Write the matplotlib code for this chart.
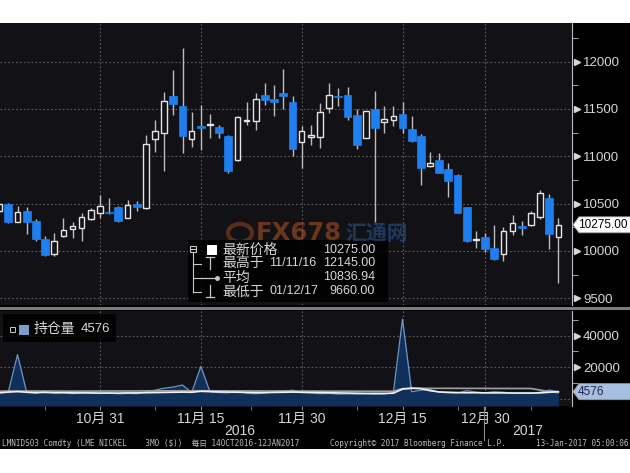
import matplotlib
matplotlib.use('Agg')
import matplotlib.pyplot as plt
from matplotlib.patches import Rectangle, Polygon, Circle
from matplotlib.lines import Line2D
from matplotlib.transforms import IdentityTransform
import numpy as np
import pandas as pd

plt.rcParams['font.family'] = ['Liberation Sans', 'Noto Sans CJK SC', 'DejaVu Sans']

W, H = 630, 473

# LME trading days (closed 26-27 Dec and 2 Jan)
days = [d for d in pd.bdate_range('2016-10-14', '2017-01-12')
        if d.strftime('%m-%d') not in ('12-26', '12-27', '01-02')]

opens = [10420, 10490, 10310, 10420, 10320, 10130, 9965, 10158, 10228, 10239,
         10341, 10405, 10415, 10460, 10350, 10500, 10450, 11183, 11246, 11639,
         11526, 11183, 11323, 11330, 11305, 11210, 10955, 11370, 11376, 11650,
         11604, 11667, 11568, 11147, 11205, 11205, 11509, 11639, 11649, 11439,
         11194, 11502, 11358, 11379, 11449, 11292, 11218, 10895, 10965, 10860,
         10800, 10458, 10110, 10150, 10025, 9965, 10205, 10260, 10270, 10358,
         10555, 10150]
highs = [10510, 10505, 10475, 10465, 10340, 10160, 10185, 10350, 10300, 10405,
         10450, 10586, 10562, 10475, 10535, 10526, 11229, 11386, 11674, 11912,
         12145, 11463, 11545, 11450, 11334, 11228, 11420, 11568, 11667, 11772,
         11755, 11920, 11639, 11316, 11334, 11562, 11772, 11720, 11730, 11499,
         11474, 11684, 11534, 11526, 11568, 11421, 11239, 11046, 11036, 10930,
         10815, 10460, 10210, 10185, 10270, 10256, 10375, 10316, 10421, 10639,
         10597, 10350]
lows = [10400, 10295, 10300, 10183, 10105, 9950, 9950, 10148, 10140, 10105,
        10326, 10352, 10385, 10300, 10345, 10420, 10440, 11046, 10842, 11439,
        11036, 11099, 11070, 11194, 11194, 10825, 10950, 11334, 11280, 11544,
        11427, 11499, 11000, 10878, 11123, 11088, 11457, 11535, 11386, 11078,
        11194, 10305, 11246, 11316, 11246, 11147, 10692, 10888, 10818, 10573,
        10400, 10098, 10030, 9990, 9905, 9895, 10165, 10170, 10262, 10333,
        10018, 9660]
closes = [10490, 10300, 10415, 10305, 10120, 9955, 10100, 10220, 10263, 10358,
          10432, 10474, 10397, 10316, 10480, 10465, 11134, 11270, 11579, 11552,
          11218, 11270, 11299, 11340, 11246, 10842, 11410, 11385, 11607, 11589,
          11568, 11639, 11078, 11263, 11215, 11467, 11649, 11620, 11415, 11120,
          11474, 11299, 11397, 11428, 11299, 11165, 10878, 10930, 10825, 10740,
          10405, 10100, 10120, 10018, 9910, 10210, 10290, 10240, 10397, 10614,
          10175, 10275]

open_int = [4000, 4500, 28000, 4200, 3500, 4800, 3800, 4200, 3300, 4100,
            3600, 3400, 3900, 3200, 3500, 3300, 4500, 5500, 6800, 7500,
            8800, 4000, 20500, 4500, 4000, 3800, 5200, 3600, 3300, 3700,
            4500, 4800, 5500, 4000, 3800, 3300, 3500, 3000, 3200, 3000,
            3100, 2900, 3000, 4000, 50500, 4500, 5500, 6000, 4200, 3800,
            3700, 5200, 4300, 3900, 4500, 4200, 3600, 3800, 3500, 4200,
            5600, 4576]
oi_avg_white = [3800, 4300, 4600, 4200, 4000, 4100, 3900, 3900, 3800, 3800,
                3800, 3700, 3700, 3700, 3800, 3800, 3900, 4000, 4100, 4200,
                4300, 4200, 4800, 4600, 4400, 4300, 4200, 4100, 4000, 4000,
                4100, 4200, 4300, 4200, 4100, 4000, 3900, 3800, 3700, 3600,
                3500, 3500, 3500, 3600, 6200, 6800, 6500, 5200, 4400, 4200,
                4000, 3900, 3900, 3800, 3800, 3800, 3700, 3700, 3700, 3800,
                4200, 4576]
oi_avg_gray = [4900, 4950, 5000, 5000, 5000, 4950, 4950, 4900, 4900, 4900,
               4950, 4950, 5000, 5000, 5000, 5000, 5050, 5050, 5100, 5100,
               5100, 5100, 5150, 5150, 5100, 5100, 5050, 5050, 5000, 5000,
               5000, 5000, 5000, 4950, 4950, 4950, 4900, 4900, 4900, 4900,
               4850, 4850, 4850, 4850, 6500, 6700, 6700, 6700, 6700, 6700,
               6700, 6650, 6650, 6650, 6600, 6600, 6600, 6600, 6600, 5600,
               4600, 4000]

tick_dates = ['2016-10-31', '2016-11-15', '2016-11-30', '2016-12-15', '2016-12-30']
tick_labels = ['10月 31', '11月 15', '11月 30', '12月 15', '12月 30']
price_ticks = [9500, 10000, 10500, 11000, 11500, 12000]
price_minor = [9750, 10250, 10750, 11250, 11750, 12250]
vol_ticks = [20000, 40000]
vol_minor = [10000, 30000, 50000]

last_price = 10275.00
high_price, high_date = 12145.00, '11/11/16'
avg_price = 10836.94
low_price, low_date = 9660.00, '01/12/17'
last_oi = 4576

BLUE = '#1f7ff0'
BG = '#121216'
TXT = '#d6d6d6'
GRID = '#5e5e5e'
CJK = 'Noto Sans CJK SC'


def fx(x):
    return x / W


def fy(y):
    return 1 - y / H


fig = plt.figure(figsize=(6.3, 4.73), dpi=100)
fig.patch.set_facecolor('white')
fig.add_artist(Rectangle((0, fy(449)), 1, (449 - 23) / H, transform=fig.transFigure,
                         fc='black', ec='none', zorder=0))

ax = fig.add_axes([0, fy(305), fx(572), (305 - 23) / H])
ax2 = fig.add_axes([0, fy(406), fx(572), (406 - 311) / H])

x = np.arange(len(days))
day_str = [d.strftime('%Y-%m-%d') for d in days]
tick_pos = [day_str.index(t) for t in tick_dates]

# ---- candles
o, h, l, c = map(np.array, (opens, highs, lows, closes))
up = c >= o
ax.vlines(x, l, h, color='#bdbdbd', lw=1, zorder=2)
bottom = np.minimum(o, c)
height = np.maximum(np.abs(c - o), 14)
ax.bar(x[~up], height[~up], bottom=bottom[~up], width=0.85, color=BLUE,
       edgecolor=BLUE, lw=0.5, zorder=3)
ax.bar(x[up], height[up], bottom=bottom[up], width=0.6, color=BG,
       edgecolor='#e4e4e4', lw=1, zorder=3)

for a in (ax, ax2):
    a.set_facecolor(BG)
    a.set_xlim(0.09, 62.49)
    for s in ('top', 'left', 'bottom'):
        a.spines[s].set_visible(False)
    a.spines['right'].set_color('#bdbdbd')
    a.yaxis.tick_right()
    a.set_xticks(tick_pos)
    a.grid(True, which='major', color=GRID, ls=(0, (1.5, 2)), lw=0.8)
    a.set_axisbelow(True)
    a.tick_params(axis='y', which='major', length=0, pad=8, labelsize=9.5,
                  labelcolor=TXT)
    a.tick_params(axis='y', which='minor', length=4, color='#9a9a9a', width=0.8)

ax.set_ylim(9428, 12407)
ax.set_yticks(price_ticks)
ax.set_yticks(price_minor, minor=True)
ax.tick_params(axis='x', length=0, labelbottom=False)
ax.plot([1.0 + 5 / 572] * len(price_ticks), price_ticks, transform=ax.get_yaxis_transform(),
        marker='>', ms=5, ls='none', color=TXT, clip_on=False)

# ---- open interest panel
ax2.set_ylim(-4494, 55633)
ax2.set_yticks([0] + vol_ticks)
ax2.set_yticklabels([''] + [str(v) for v in vol_ticks])
ax2.set_yticks(vol_minor, minor=True)
ax2.plot([1.0 + 5 / 572] * len(vol_ticks), vol_ticks, transform=ax2.get_yaxis_transform(),
         marker='>', ms=5, ls='none', color=TXT, clip_on=False)
ax2.fill_between(x, open_int, -4494, color='#10305a', lw=0, zorder=2)
ax2.plot(x, open_int, color='#6f95c9', lw=0.9, zorder=3)
ax2.plot(x, oi_avg_gray, color='#a0a0a0', lw=1.2, zorder=4)
ax2.plot(x, oi_avg_white, color='#f0f0f0', lw=1.2, zorder=5)
ax2.set_xticklabels(tick_labels)
ax2.tick_params(axis='x', which='major', length=3, color='#8a8a8a', pad=1,
                labelsize=10, labelcolor=TXT)
ax2.set_xticks([5, 17, 27.5, 39, 50, 58], minor=True)
ax2.tick_params(axis='x', which='minor', length=3, color='#8a8a8a')

# separator between panels
fig.add_artist(Line2D([0, 1], [fy(308.5)] * 2, color='#7c7c7c', lw=2.2))

# year labels
fig.text(fx(240), fy(431), '2016', color=TXT, fontsize=10, ha='center', va='center')
fig.text(fx(528), fy(431), '2017', color=TXT, fontsize=10, ha='center', va='center')
fig.add_artist(Line2D([fx(484)] * 2, [fy(407), fy(440)], color='#8a8a8a', lw=0.8))

# watermark
fig.text(fx(256), fy(233), 'FX678', color='#c65a1e', alpha=0.5, fontsize=17.5,
         fontweight='bold', ha='left', va='center', family='DejaVu Sans')
fig.text(fx(345), fy(233), '汇通网', color='#2a5ea6', alpha=0.5, fontsize=15,
         fontweight='bold', ha='left', va='center', family=CJK)
fig.add_artist(Circle((fx(240), fy(233)), 12 / W, transform=fig.transFigure,
                      fc='none', ec='#c65a1e', lw=3, alpha=0.4))

# price legend box
fig.add_artist(Rectangle((fx(188), fy(302)), (388 - 188) / W, (302 - 240) / H,
                         transform=fig.transFigure, fc='black', ec='none', alpha=0.85))
rows = [250, 263.5, 277.5, 291.5]
fig.add_artist(Rectangle((fx(190), fy(252)), 6 / W, 6 / H, transform=fig.transFigure,
                         fc='none', ec='#c8c8c8', lw=0.8))
fig.add_artist(Line2D([fx(191.5), fx(194.5)], [fy(249)] * 2, color='#c8c8c8', lw=0.8))
fig.add_artist(Line2D([fx(193)] * 2, [fy(252), fy(rows[3])], color='#c8c8c8', lw=0.8))
for r in rows[1:]:
    fig.add_artist(Line2D([fx(193), fx(201)], [fy(r)] * 2, color='#c8c8c8', lw=0.8))
fig.add_artist(Rectangle((fx(207), fy(255)), 10 / W, 10 / H, transform=fig.transFigure,
                         fc='white', ec='none'))
fig.add_artist(Line2D([fx(206), fx(214)], [fy(257)] * 2, color='#c8c8c8', lw=0.9))
fig.add_artist(Line2D([fx(210)] * 2, [fy(257), fy(269)], color='#c8c8c8', lw=0.9))
fig.add_artist(Line2D([fx(201), fx(217)], [fy(rows[2])] * 2, color='#c8c8c8', lw=0.9,
                      marker='o', markevery=[1], ms=2.5))
fig.add_artist(Line2D([fx(210), fx(210)], [fy(285), fy(297)], color='#c8c8c8', lw=0.9))
fig.add_artist(Line2D([fx(206), fx(214)], [fy(297)] * 2, color='#c8c8c8', lw=0.9))

cjk_txt = ['最新价格', '最高于', '平均', '最低于']
date_txt = ['', high_date, '', low_date]
num_txt = [f'{last_price:.2f}', f'{high_price:.2f}', f'{avg_price:.2f}', f'{low_price:.2f}']
for r, ct, dt, nt in zip(rows, cjk_txt, date_txt, num_txt):
    fig.text(fx(222), fy(r), ct, color=TXT, fontsize=10, ha='left', va='center', family=CJK)
    if dt:
        fig.text(fx(269), fy(r), dt, color=TXT, fontsize=9, ha='left', va='center')
    fig.text(fx(375), fy(r), nt, color=TXT, fontsize=9, ha='right', va='center')

# open interest legend
fig.add_artist(Rectangle((fx(3), fy(342)), (116 - 3) / W, (342 - 314) / H,
                         transform=fig.transFigure, fc='black', ec='none', alpha=0.8))
fig.add_artist(Rectangle((fx(10), fy(332)), 5 / W, 5 / H, transform=fig.transFigure,
                         fc='none', ec='#c8c8c8', lw=0.7))
fig.add_artist(Rectangle((fx(19), fy(335)), 10 / W, 10 / H, transform=fig.transFigure,
                         fc='#7e9ccc', ec='none'))
fig.text(fx(34), fy(329.5), '持仓量', color=TXT, fontsize=10, ha='left', va='center', family=CJK)
fig.text(fx(81), fy(329.5), str(last_oi), color=TXT, fontsize=9.5, ha='left', va='center')


def value_tag(a, val, text, fc, tc):
    fig.canvas.draw()
    yd = a.transData.transform((0, val))[1]
    x0 = 573
    pts = [(x0, yd), (x0 + 6, yd + 8), (W + 2, yd + 8), (W + 2, yd - 8), (x0 + 6, yd - 8)]
    fig.add_artist(Polygon(pts, closed=True, transform=IdentityTransform(), fc=fc,
                           ec='#9a9a9a', lw=0.6, zorder=10))
    fig.text(fx(578), yd / H, text, color=tc, fontsize=8.5, ha='left', va='center', zorder=11)


value_tag(ax, last_price, f'{last_price:.2f}', 'white', 'black')
value_tag(ax2, last_oi, str(last_oi), '#a9bfe2', '#1a2a44')

# footer
foot = dict(color='#bdbdbd', fontsize=5.5, va='center',
            family=['DejaVu Sans Mono', 'Noto Sans CJK SC'])
fig.text(fx(2), fy(443), 'LMNIDS03 Comdty (LME NICKEL    3MO ($))  每日 14OCT2016-12JAN2017',
         ha='left', **foot)
fig.text(fx(330), fy(443), 'Copyright© 2017 Bloomberg Finance L.P.', ha='left', **foot)
fig.text(fx(628), fy(443), '13-Jan-2017 05:00:06', ha='right', **foot)

fig.savefig('out.png', dpi=100, facecolor=fig.get_facecolor())
